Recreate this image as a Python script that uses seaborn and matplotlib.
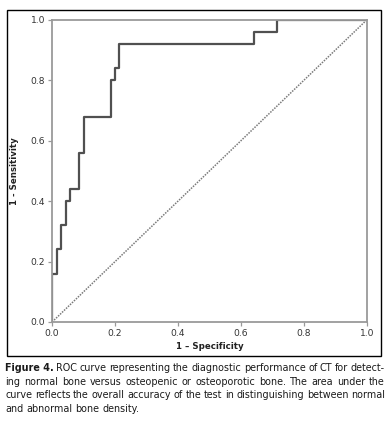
import numpy as np
import pandas as pd
import matplotlib.pyplot as plt
import seaborn as sns
from matplotlib.patches import Rectangle

# ROC curve corner points (step curve)
fpr = [0.0, 0.0, 0.014, 0.029, 0.043, 0.057, 0.086, 0.100, 0.186, 0.200, 0.214, 0.643, 0.714, 1.0]
tpr = [0.0, 0.16, 0.24, 0.32, 0.40, 0.44, 0.56, 0.68, 0.80, 0.84, 0.92, 0.96, 1.00, 1.00]
ref_line = [0.0, 1.0]
ticks = [0.0, 0.2, 0.4, 0.6, 0.8, 1.0]
tick_labels = ["0.0", "0.2", "0.4", "0.6", "0.8", "1.0"]

caption_head = "Figure 4."
caption_lines = [
    "ROC curve representing the diagnostic performance of CT for detect-",
    "ing normal bone versus osteopenic or osteoporotic bone. The area under the",
    "curve reflects the overall accuracy of the test in distinguishing between normal",
    "and abnormal bone density.",
]

df = pd.DataFrame({"fpr": fpr, "tpr": tpr})

sns.set_theme(style="white")
plt.rcParams["font.family"] = ["DejaVu Sans"]

W, H = 389, 422
fig = plt.figure(figsize=(W / 100, H / 100), dpi=100)
ax = fig.add_axes([0.134, 0.237, 0.809, 0.716])

sns.lineplot(data=df, x="fpr", y="tpr", ax=ax, estimator=None, sort=False,
             drawstyle="steps-post", color="#505050", linewidth=1.6)
ax.plot(ref_line, ref_line, color="#7a7a7a", linestyle=(0, (1, 0.8)), linewidth=1.1)

ax.set_xlim(0, 1)
ax.set_ylim(0, 1)
ax.set_xticks(ticks)
ax.set_xticklabels(tick_labels)
ax.set_yticks(ticks)
ax.set_yticklabels(tick_labels)
ax.tick_params(axis="both", direction="out", length=3, width=0.9, color="#999999",
               labelsize=6.6, labelcolor="#333333", pad=2, bottom=True, left=True)
for s in ax.spines.values():
    s.set_color("#9a9a9a")
    s.set_linewidth(1.3)

ax.set_xlabel("1 – Specificity", fontsize=6.2, fontweight="bold", color="#222222", labelpad=3)
ax.set_ylabel("1 - Sensitivity", fontsize=6.2, fontweight="bold", color="#222222", labelpad=8)

# outer frame around the chart panel
fig.patches.append(Rectangle((0.018, 0.156), 0.961, 0.82, transform=fig.transFigure,
                             fill=False, edgecolor="black", linewidth=1.0))

# caption, justified between x=5 and x=385 px
renderer = fig.canvas.get_renderer()
left_px, right_px = 5, 385
y0 = 0.128
dy = 0.0325


def put_line(tokens, y, justify):
    texts = []
    for word, bold in tokens:
        t = fig.text(0, y, word, fontsize=6.95, family="DejaVu Sans",
                     fontweight="bold" if bold else "normal", va="center", ha="left",
                     color="#1a1a1a")
        texts.append(t)
    widths = [t.get_window_extent(renderer).width for t in texts]
    space = texts[0].get_fontsize() * 0.32 * 100 / 72
    if justify and len(texts) > 1:
        space = (right_px - left_px - sum(widths)) / (len(texts) - 1)
    x = left_px
    for t, w in zip(texts, widths):
        t.set_x(x / W)
        x += w + space


for i, line in enumerate(caption_lines):
    tokens = [(w, False) for w in line.split()]
    if i == 0:
        tokens = [(caption_head, True)] + tokens
    put_line(tokens, y0 - i * dy, justify=(i < len(caption_lines) - 1))

fig.savefig("out.png", dpi=100)
